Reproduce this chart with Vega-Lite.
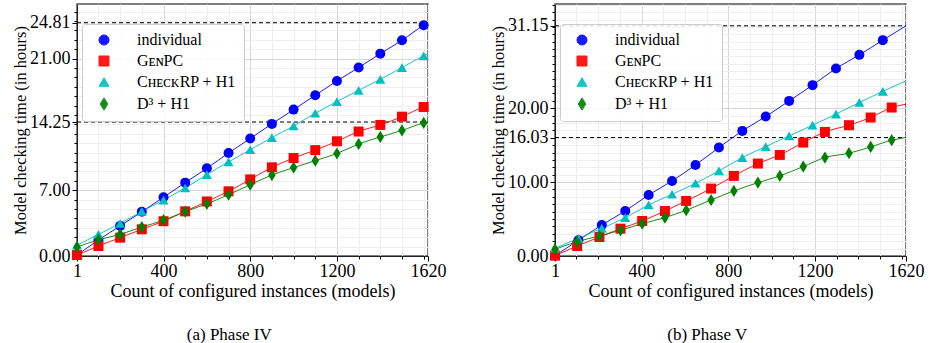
{
  "$schema": "https://vega.github.io/schema/vega-lite/v6.json",
  "padding": {"left": 11, "top": 3, "right": 2, "bottom": 2},
  "background": "white",
  "spacing": 42,
  "config": {
    "font": "Liberation Serif",
    "view": {"stroke": "#555555", "strokeWidth": 1.5},
    "axis": {
      "labelFont": "Liberation Serif", "labelFontSize": 18, "labelColor": "#000000",
      "titleFont": "Liberation Serif", "titleFontSize": 17, "titleFontWeight": "normal", "titleColor": "#000000",
      "tickColor": "#000000", "tickWidth": 1, "domainColor": "#222222", "domainWidth": 1,
      "labelOverlap": false, "labelFlush": false, "grid": true, "gridWidth": 1
    },
    "title": {"font": "Liberation Serif", "fontSize": 17, "fontWeight": "normal", "color": "#000000"}
  },
  "datasets": {
    "p4": [
      {"series": "individual", "x": 1, "y": 0.1}, {"series": "individual", "x": 100, "y": 1.7}, {"series": "individual", "x": 200, "y": 3.2}, {"series": "individual", "x": 300, "y": 4.7}, {"series": "individual", "x": 400, "y": 6.25}, {"series": "individual", "x": 500, "y": 7.8}, {"series": "individual", "x": 600, "y": 9.33}, {"series": "individual", "x": 700, "y": 10.95}, {"series": "individual", "x": 800, "y": 12.5}, {"series": "individual", "x": 900, "y": 14.05}, {"series": "individual", "x": 1000, "y": 15.57}, {"series": "individual", "x": 1100, "y": 17.09}, {"series": "individual", "x": 1200, "y": 18.62}, {"series": "individual", "x": 1300, "y": 20.04}, {"series": "individual", "x": 1400, "y": 21.52}, {"series": "individual", "x": 1500, "y": 22.94}, {"series": "individual", "x": 1600, "y": 24.54}, {"series": "individual", "x": 1620, "y": 24.81},
      {"series": "GᴇɴPC", "x": 1, "y": 0.1}, {"series": "GᴇɴPC", "x": 100, "y": 1.06}, {"series": "GᴇɴPC", "x": 200, "y": 1.95}, {"series": "GᴇɴPC", "x": 300, "y": 2.84}, {"series": "GᴇɴPC", "x": 400, "y": 3.7}, {"series": "GᴇɴPC", "x": 500, "y": 4.75}, {"series": "GᴇɴPC", "x": 600, "y": 5.8}, {"series": "GᴇɴPC", "x": 700, "y": 6.88}, {"series": "GᴇɴPC", "x": 800, "y": 8.15}, {"series": "GᴇɴPC", "x": 900, "y": 9.43}, {"series": "GᴇɴPC", "x": 1000, "y": 10.42}, {"series": "GᴇɴPC", "x": 1100, "y": 11.26}, {"series": "GᴇɴPC", "x": 1200, "y": 12.2}, {"series": "GᴇɴPC", "x": 1300, "y": 13.24}, {"series": "GᴇɴPC", "x": 1400, "y": 13.94}, {"series": "GᴇɴPC", "x": 1500, "y": 14.82}, {"series": "GᴇɴPC", "x": 1600, "y": 15.85}, {"series": "GᴇɴPC", "x": 1620, "y": 16.0},
      {"series": "CʜᴇᴄᴋRP + H1", "x": 1, "y": 1.15}, {"series": "CʜᴇᴄᴋRP + H1", "x": 100, "y": 2.3}, {"series": "CʜᴇᴄᴋRP + H1", "x": 200, "y": 3.47}, {"series": "CʜᴇᴄᴋRP + H1", "x": 300, "y": 4.74}, {"series": "CʜᴇᴄᴋRP + H1", "x": 400, "y": 5.95}, {"series": "CʜᴇᴄᴋRP + H1", "x": 500, "y": 7.23}, {"series": "CʜᴇᴄᴋRP + H1", "x": 600, "y": 8.66}, {"series": "CʜᴇᴄᴋRP + H1", "x": 700, "y": 10.01}, {"series": "CʜᴇᴄᴋRP + H1", "x": 800, "y": 11.3}, {"series": "CʜᴇᴄᴋRP + H1", "x": 900, "y": 12.59}, {"series": "CʜᴇᴄᴋRP + H1", "x": 1000, "y": 13.83}, {"series": "CʜᴇᴄᴋRP + H1", "x": 1100, "y": 15.18}, {"series": "CʜᴇᴄᴋRP + H1", "x": 1200, "y": 16.42}, {"series": "CʜᴇᴄᴋRP + H1", "x": 1300, "y": 17.62}, {"series": "CʜᴇᴄᴋRP + H1", "x": 1400, "y": 18.79}, {"series": "CʜᴇᴄᴋRP + H1", "x": 1500, "y": 20.04}, {"series": "CʜᴇᴄᴋRP + H1", "x": 1600, "y": 21.28}, {"series": "CʜᴇᴄᴋRP + H1", "x": 1620, "y": 21.5},
      {"series": "D³ + H1", "x": 1, "y": 0.95}, {"series": "D³ + H1", "x": 100, "y": 1.72}, {"series": "D³ + H1", "x": 200, "y": 2.3}, {"series": "D³ + H1", "x": 300, "y": 3.08}, {"series": "D³ + H1", "x": 400, "y": 3.81}, {"series": "D³ + H1", "x": 500, "y": 4.72}, {"series": "D³ + H1", "x": 600, "y": 5.55}, {"series": "D³ + H1", "x": 700, "y": 6.52}, {"series": "D³ + H1", "x": 800, "y": 7.58}, {"series": "D³ + H1", "x": 900, "y": 8.61}, {"series": "D³ + H1", "x": 1000, "y": 9.4}, {"series": "D³ + H1", "x": 1100, "y": 10.14}, {"series": "D³ + H1", "x": 1200, "y": 10.9}, {"series": "D³ + H1", "x": 1300, "y": 11.91}, {"series": "D³ + H1", "x": 1400, "y": 12.66}, {"series": "D³ + H1", "x": 1500, "y": 13.35}, {"series": "D³ + H1", "x": 1600, "y": 14.15}, {"series": "D³ + H1", "x": 1620, "y": 14.25}
    ],
    "p5": [
      {"series": "individual", "x": 1, "y": 0.05}, {"series": "individual", "x": 109, "y": 2.12}, {"series": "individual", "x": 217, "y": 4.2}, {"series": "individual", "x": 325, "y": 6.09}, {"series": "individual", "x": 433, "y": 8.26}, {"series": "individual", "x": 541, "y": 10.16}, {"series": "individual", "x": 649, "y": 12.32}, {"series": "individual", "x": 757, "y": 14.67}, {"series": "individual", "x": 865, "y": 16.93}, {"series": "individual", "x": 973, "y": 18.87}, {"series": "individual", "x": 1081, "y": 20.99}, {"series": "individual", "x": 1189, "y": 23.12}, {"series": "individual", "x": 1297, "y": 25.37}, {"series": "individual", "x": 1405, "y": 27.22}, {"series": "individual", "x": 1513, "y": 29.21}, {"series": "individual", "x": 1620, "y": 31.15},
      {"series": "GᴇɴPC", "x": 1, "y": 0.05}, {"series": "GᴇɴPC", "x": 103, "y": 1.35}, {"series": "GᴇɴPC", "x": 206, "y": 2.57}, {"series": "GᴇɴPC", "x": 303, "y": 3.7}, {"series": "GᴇɴPC", "x": 403, "y": 4.74}, {"series": "GᴇɴPC", "x": 508, "y": 6.09}, {"series": "GᴇɴPC", "x": 606, "y": 7.45}, {"series": "GᴇɴPC", "x": 721, "y": 9.12}, {"series": "GᴇɴPC", "x": 826, "y": 10.84}, {"series": "GᴇɴPC", "x": 937, "y": 12.51}, {"series": "GᴇɴPC", "x": 1038, "y": 13.68}, {"series": "GᴇɴPC", "x": 1146, "y": 15.35}, {"series": "GᴇɴPC", "x": 1246, "y": 16.79}, {"series": "GᴇɴPC", "x": 1357, "y": 17.7}, {"series": "GᴇɴPC", "x": 1457, "y": 18.74}, {"series": "GᴇɴPC", "x": 1554, "y": 20.09}, {"series": "GᴇɴPC", "x": 1620, "y": 20.54},
      {"series": "CʜᴇᴄᴋRP + H1", "x": 1, "y": 1.05}, {"series": "CʜᴇᴄᴋRP + H1", "x": 109, "y": 2.39}, {"series": "CʜᴇᴄᴋRP + H1", "x": 217, "y": 3.75}, {"series": "CʜᴇᴄᴋRP + H1", "x": 325, "y": 5.19}, {"series": "CʜᴇᴄᴋRP + H1", "x": 433, "y": 6.91}, {"series": "CʜᴇᴄᴋRP + H1", "x": 541, "y": 8.35}, {"series": "CʜᴇᴄᴋRP + H1", "x": 649, "y": 9.84}, {"series": "CʜᴇᴄᴋRP + H1", "x": 757, "y": 11.51}, {"series": "CʜᴇᴄᴋRP + H1", "x": 865, "y": 13.32}, {"series": "CʜᴇᴄᴋRP + H1", "x": 973, "y": 14.81}, {"series": "CʜᴇᴄᴋRP + H1", "x": 1081, "y": 16.25}, {"series": "CʜᴇᴄᴋRP + H1", "x": 1189, "y": 17.7}, {"series": "CʜᴇᴄᴋRP + H1", "x": 1297, "y": 19.19}, {"series": "CʜᴇᴄᴋRP + H1", "x": 1405, "y": 20.77}, {"series": "CʜᴇᴄᴋRP + H1", "x": 1513, "y": 22.28}, {"series": "CʜᴇᴄᴋRP + H1", "x": 1620, "y": 23.7},
      {"series": "D³ + H1", "x": 1, "y": 0.9}, {"series": "D³ + H1", "x": 103, "y": 1.94}, {"series": "D³ + H1", "x": 206, "y": 2.71}, {"series": "D³ + H1", "x": 303, "y": 3.48}, {"series": "D³ + H1", "x": 403, "y": 4.38}, {"series": "D³ + H1", "x": 508, "y": 5.19}, {"series": "D³ + H1", "x": 606, "y": 6.19}, {"series": "D³ + H1", "x": 721, "y": 7.58}, {"series": "D³ + H1", "x": 826, "y": 8.8}, {"series": "D³ + H1", "x": 937, "y": 9.93}, {"series": "D³ + H1", "x": 1038, "y": 10.84}, {"series": "D³ + H1", "x": 1146, "y": 12.1}, {"series": "D³ + H1", "x": 1246, "y": 13.32}, {"series": "D³ + H1", "x": 1357, "y": 13.91}, {"series": "D³ + H1", "x": 1457, "y": 14.76}, {"series": "D³ + H1", "x": 1554, "y": 15.67}, {"series": "D³ + H1", "x": 1620, "y": 16.03}
    ],
    "ref4": [
      {"g": "a", "x": 1, "y": 24.81}, {"g": "a", "x": 1620, "y": 24.81},
      {"g": "b", "x": 1, "y": 14.25}, {"g": "b", "x": 1620, "y": 14.25}
    ],
    "ref5": [
      {"g": "a", "x": 1, "y": 31.15}, {"g": "a", "x": 1620, "y": 31.15},
      {"g": "b", "x": 1, "y": 16.03}, {"g": "b", "x": 1620, "y": 16.03}
    ]
  },
  "resolve": {"scale": {"color": "independent", "shape": "independent"}, "legend": {"color": "independent", "shape": "independent"}},
  "hconcat": [
    {
      "title": {"text": "(a) Phase IV", "orient": "bottom", "offset": 27, "frame": "bounds", "anchor": "middle"},
      "width": 351,
      "height": 252,
      "encoding": {
        "x": {"field": "x", "type": "quantitative", "title": "Count of configured instances (models)",
          "scale": {"domain": [1, 1620], "nice": false, "zero": false},
          "axis": {
            "values": [1, 100, 200, 300, 400, 500, 600, 700, 800, 900, 1000, 1100, 1200, 1300, 1400, 1500, 1600, 1620],
            "labelExpr": "indexof([1, 400, 800, 1200, 1620], datum.value) >= 0 ? format(datum.value, 'd') : ''",
            "labelFontSize": {"condition": {"test": "indexof([1, 400, 800, 1200, 1620], datum.value) >= 0", "value": 18}, "value": 0},
            "tickSize": {"condition": {"test": "indexof([1, 400, 800, 1200, 1620], datum.value) >= 0", "value": 5}, "value": 3},
            "gridColor": {"condition": {"test": "indexof([400, 800, 1200], datum.value) >= 0", "value": "#d6d6d6"}, "value": "#eeeeee"},
            "labelPadding": 1, "titlePadding": 2, "titleFontSize": 18
          }
        },
        "y": {"field": "y", "type": "quantitative", "title": "Model checking time (in hours)",
          "scale": {"domain": [0, 26.8], "nice": false, "zero": true},
          "axis": {
            "values": [0, 1, 2, 3, 4, 5, 6, 7, 8, 9, 10, 11, 12, 13, 14, 14.25, 15, 16, 17, 18, 19, 20, 21, 22, 23, 24, 24.81, 25, 26],
            "labelExpr": "indexof([0, 7, 14.25, 21, 24.81], datum.value) >= 0 ? format(datum.value, '.2f') : ''",
            "labelFontSize": {"condition": {"test": "indexof([0, 7, 14.25, 21, 24.81], datum.value) >= 0", "value": 18}, "value": 0},
            "tickSize": {"condition": {"test": "indexof([0, 7, 14.25, 21, 24.81], datum.value) >= 0", "value": 5}, "value": 3},
            "gridColor": {"condition": {"test": "indexof([7, 21], datum.value) >= 0", "value": "#d6d6d6"}, "value": "#eeeeee"},
            "labelPadding": 2, "titlePadding": 1, "titleFontSize": 16.5
          }
        }
      },
      "layer": [
        {
          "data": {"name": "ref4"},
          "mark": {"type": "line", "color": "#000000", "strokeWidth": 1, "strokeDash": [4, 3]},
          "encoding": {"detail": {"field": "g"}}
        },
        {
          "data": {"name": "p4"},
          "mark": {"type": "line", "interpolate": "monotone", "strokeWidth": 1, "opacity": 0.9},
          "encoding": {
            "color": {"field": "series", "type": "nominal",
              "scale": {"domain": ["individual", "GᴇɴPC", "CʜᴇᴄᴋRP + H1", "D³ + H1"], "range": ["#0000ff", "#ff0000", "#00bfbf", "#008000"]},
              "legend": {
                "orient": "none", "legendX": 5, "legendY": 20, "title": null,
                "symbolSize": 100, "symbolStrokeWidth": 1, "symbolOffset": 6, "labelFontSize": 16, "labelFont": "Liberation Serif", "labelOffset": 25,
                "rowPadding": 5, "padding": 8, "fillColor": "rgba(255,255,255,0.85)", "strokeColor": "#cccccc", "cornerRadius": 3,
                "encode": {
                  "symbols": {"size": {"value": 100}, "strokeWidth": {"value": 1}, "opacity": {"value": 1}},
                  "labels": {
                    "font": {"value": {"expr": "datum.index === 0 ? 'DejaVu Sans' : 'Liberation Serif'"}},
                    "fontSize": {"value": {"expr": "datum.index === 0 ? 13 : 16"}}
                  }
                }
              }
            }
          }
        },
        {
          "data": {"name": "p4"},
          "transform": [{"filter": "datum.x < 1620"}],
          "mark": {"type": "point", "filled": true, "size": 100, "opacity": 1, "strokeWidth": 1},
          "encoding": {
            "color": {"field": "series", "type": "nominal",
              "scale": {"domain": ["individual", "GᴇɴPC", "CʜᴇᴄᴋRP + H1", "D³ + H1"], "range": ["#0000ff", "#ff0000", "#00bfbf", "#008000"]},
              "legend": {
                "orient": "none", "legendX": 5, "legendY": 20, "title": null,
                "symbolSize": 100, "symbolStrokeWidth": 1, "symbolOffset": 6, "labelFontSize": 16, "labelFont": "Liberation Serif", "labelOffset": 25,
                "rowPadding": 5, "padding": 8, "fillColor": "rgba(255,255,255,0.85)", "strokeColor": "#cccccc", "cornerRadius": 3,
                "encode": {
                  "symbols": {"size": {"value": 100}, "strokeWidth": {"value": 1}, "opacity": {"value": 1}},
                  "labels": {
                    "font": {"value": {"expr": "datum.index === 0 ? 'DejaVu Sans' : 'Liberation Serif'"}},
                    "fontSize": {"value": {"expr": "datum.index === 0 ? 13 : 16"}}
                  }
                }
              }
            },
            "shape": {"field": "series", "type": "nominal", "legend": null,
              "scale": {"domain": ["individual", "GᴇɴPC", "CʜᴇᴄᴋRP + H1", "D³ + H1"], "range": ["circle", "square", "triangle-up", "M0,-1.22L0.75,0L0,1.22L-0.75,0Z"]}
            }
          }
        }
      ]
    },
    {
      "title": {"text": "(b) Phase V", "orient": "bottom", "offset": 27, "frame": "bounds", "anchor": "middle"},
      "width": 351,
      "height": 252,
      "encoding": {
        "x": {"field": "x", "type": "quantitative", "title": "Count of configured instances (models)",
          "scale": {"domain": [1, 1620], "nice": false, "zero": false},
          "axis": {
            "values": [1, 100, 200, 300, 400, 500, 600, 700, 800, 900, 1000, 1100, 1200, 1300, 1400, 1500, 1600, 1620],
            "labelExpr": "indexof([1, 400, 800, 1200, 1620], datum.value) >= 0 ? format(datum.value, 'd') : ''",
            "labelFontSize": {"condition": {"test": "indexof([1, 400, 800, 1200, 1620], datum.value) >= 0", "value": 18}, "value": 0},
            "tickSize": {"condition": {"test": "indexof([1, 400, 800, 1200, 1620], datum.value) >= 0", "value": 5}, "value": 3},
            "gridColor": {"condition": {"test": "indexof([400, 800, 1200], datum.value) >= 0", "value": "#d6d6d6"}, "value": "#eeeeee"},
            "labelPadding": 1, "titlePadding": 2, "titleFontSize": 18
          }
        },
        "y": {"field": "y", "type": "quantitative", "title": "Model checking time (in hours)",
          "scale": {"domain": [0, 34.1], "nice": false, "zero": true},
          "axis": {
            "values": [0, 1, 2, 3, 4, 5, 6, 7, 8, 9, 10, 11, 12, 13, 14, 15, 16, 16.03, 17, 18, 19, 20, 21, 22, 23, 24, 25, 26, 27, 28, 29, 30, 31, 31.15, 32, 33, 34],
            "labelExpr": "indexof([0, 10, 16.03, 20, 31.15], datum.value) >= 0 ? format(datum.value, '.2f') : ''",
            "labelFontSize": {"condition": {"test": "indexof([0, 10, 16.03, 20, 31.15], datum.value) >= 0", "value": 18}, "value": 0},
            "tickSize": {"condition": {"test": "indexof([0, 10, 16.03, 20, 31.15], datum.value) >= 0", "value": 5}, "value": 3},
            "gridColor": {"condition": {"test": "indexof([10, 20], datum.value) >= 0", "value": "#d6d6d6"}, "value": "#eeeeee"},
            "labelPadding": 2, "titlePadding": 1, "titleFontSize": 16.5
          }
        }
      },
      "layer": [
        {
          "data": {"name": "ref5"},
          "mark": {"type": "line", "color": "#000000", "strokeWidth": 1, "strokeDash": [4, 3]},
          "encoding": {"detail": {"field": "g"}}
        },
        {
          "data": {"name": "p5"},
          "mark": {"type": "line", "interpolate": "monotone", "strokeWidth": 1, "opacity": 0.9},
          "encoding": {
            "color": {"field": "series", "type": "nominal",
              "scale": {"domain": ["individual", "GᴇɴPC", "CʜᴇᴄᴋRP + H1", "D³ + H1"], "range": ["#0000ff", "#ff0000", "#00bfbf", "#008000"]},
              "legend": {
                "orient": "none", "legendX": 5, "legendY": 20, "title": null,
                "symbolSize": 100, "symbolStrokeWidth": 1, "symbolOffset": 6, "labelFontSize": 16, "labelFont": "Liberation Serif", "labelOffset": 25,
                "rowPadding": 5, "padding": 8, "fillColor": "rgba(255,255,255,0.85)", "strokeColor": "#cccccc", "cornerRadius": 3,
                "encode": {
                  "symbols": {"size": {"value": 100}, "strokeWidth": {"value": 1}, "opacity": {"value": 1}},
                  "labels": {
                    "font": {"value": {"expr": "datum.index === 0 ? 'DejaVu Sans' : 'Liberation Serif'"}},
                    "fontSize": {"value": {"expr": "datum.index === 0 ? 13 : 16"}}
                  }
                }
              }
            }
          }
        },
        {
          "data": {"name": "p5"},
          "transform": [{"filter": "datum.x < 1620"}],
          "mark": {"type": "point", "filled": true, "size": 100, "opacity": 1, "strokeWidth": 1},
          "encoding": {
            "color": {"field": "series", "type": "nominal",
              "scale": {"domain": ["individual", "GᴇɴPC", "CʜᴇᴄᴋRP + H1", "D³ + H1"], "range": ["#0000ff", "#ff0000", "#00bfbf", "#008000"]},
              "legend": {
                "orient": "none", "legendX": 5, "legendY": 20, "title": null,
                "symbolSize": 100, "symbolStrokeWidth": 1, "symbolOffset": 6, "labelFontSize": 16, "labelFont": "Liberation Serif", "labelOffset": 25,
                "rowPadding": 5, "padding": 8, "fillColor": "rgba(255,255,255,0.85)", "strokeColor": "#cccccc", "cornerRadius": 3,
                "encode": {
                  "symbols": {"size": {"value": 100}, "strokeWidth": {"value": 1}, "opacity": {"value": 1}},
                  "labels": {
                    "font": {"value": {"expr": "datum.index === 0 ? 'DejaVu Sans' : 'Liberation Serif'"}},
                    "fontSize": {"value": {"expr": "datum.index === 0 ? 13 : 16"}}
                  }
                }
              }
            },
            "shape": {"field": "series", "type": "nominal", "legend": null,
              "scale": {"domain": ["individual", "GᴇɴPC", "CʜᴇᴄᴋRP + H1", "D³ + H1"], "range": ["circle", "square", "triangle-up", "M0,-1.22L0.75,0L0,1.22L-0.75,0Z"]}
            }
          }
        }
      ]
    }
  ]
}
